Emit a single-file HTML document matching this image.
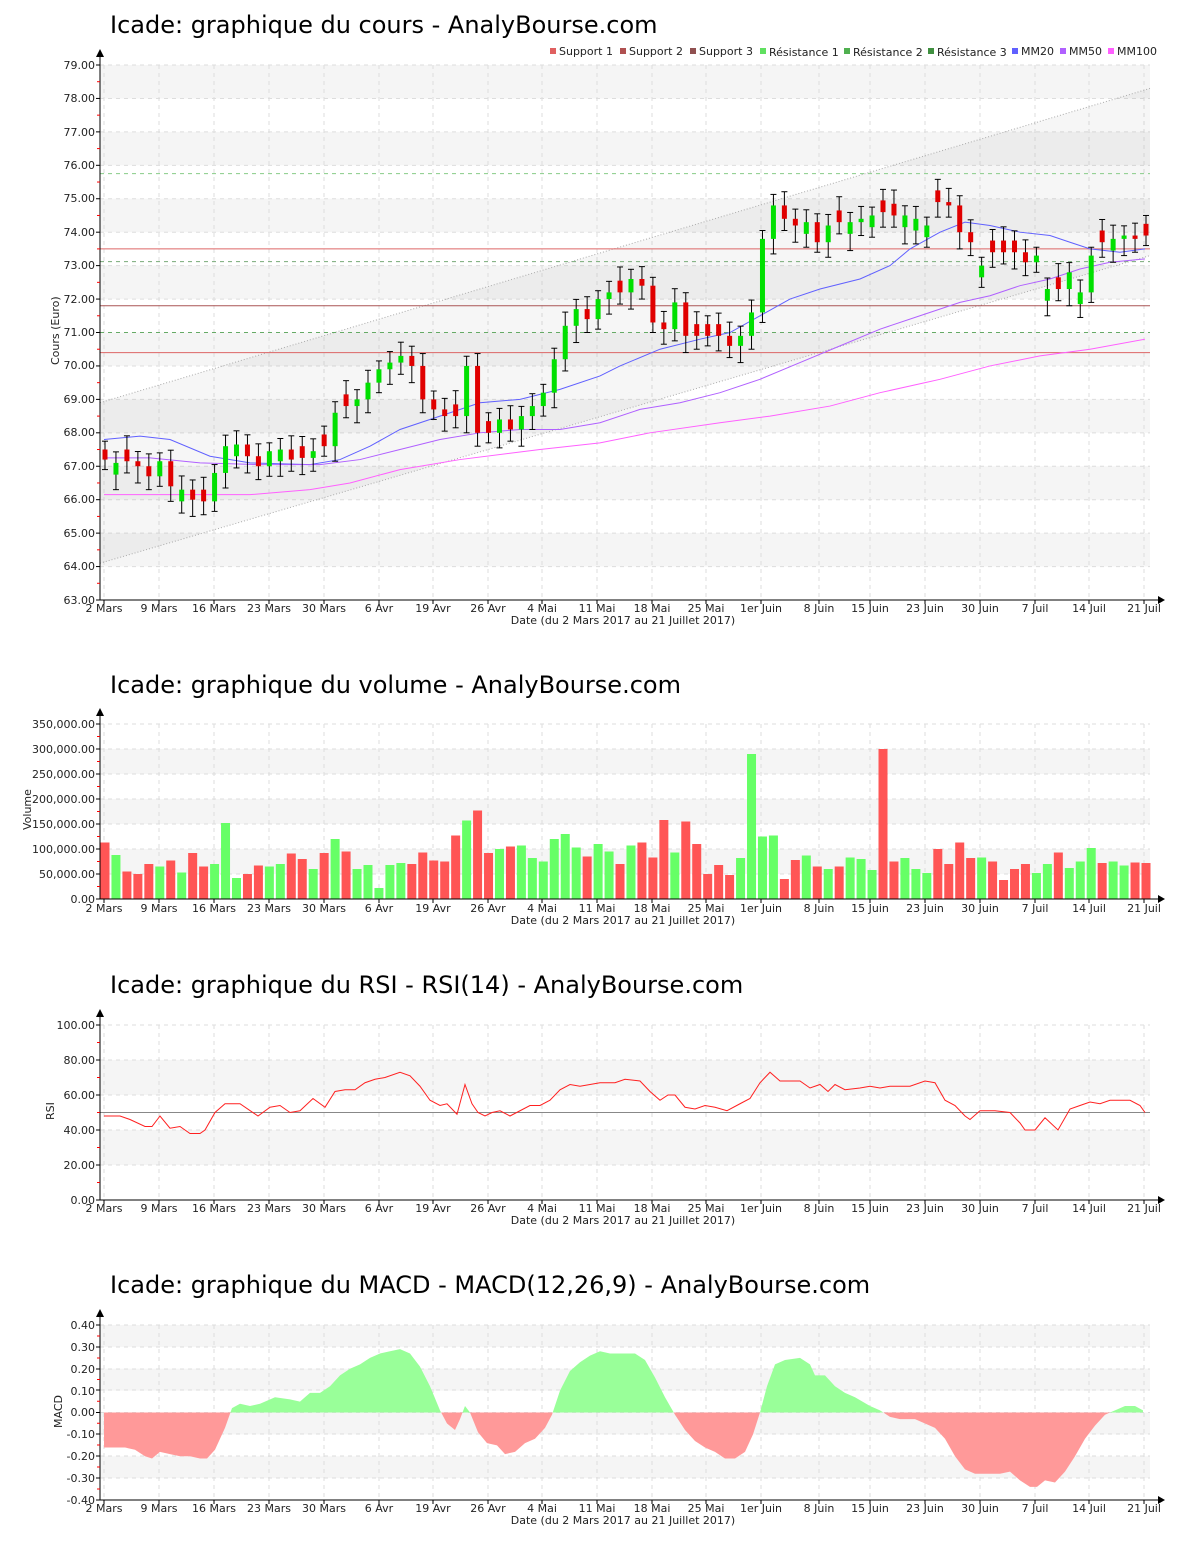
<!DOCTYPE html>
<html><head><meta charset="utf-8"><style>
body{margin:0;background:#fff;}
svg{display:block;font-family:"DejaVu Sans","Liberation Sans",sans-serif;}
.t{font-size:24px;fill:#000;}
.a{font-size:11px;fill:#222;}
.l{font-size:11px;fill:#222;}
</style></head><body>
<svg id="s" width="1200" height="1550" xmlns="http://www.w3.org/2000/svg">
<rect width="1200" height="1550" fill="#fff"/>
<g id="bg"></g>
<g id="data"></g>
<!-- titles -->
<text class="t" x="110" y="33">Icade: graphique du cours - AnalyBourse.com</text>
<text class="t" x="110" y="693">Icade: graphique du volume - AnalyBourse.com</text>
<text class="t" x="110" y="993">Icade: graphique du RSI - RSI(14) - AnalyBourse.com</text>
<text class="t" x="110" y="1293">Icade: graphique du MACD - MACD(12,26,9) - AnalyBourse.com</text>
<!-- legend -->
<g class="l">
<rect x="550" y="48" width="6" height="6" fill="#e06060"/><text x="559" y="55">Support 1</text>
<rect x="620" y="48" width="6" height="6" fill="#b05050"/><text x="629" y="55">Support 2</text>
<rect x="690" y="48" width="6" height="6" fill="#905050"/><text x="699" y="55">Support 3</text>
<rect x="760" y="48" width="6" height="6" fill="#60e060"/><text x="769" y="56">Résistance 1</text>
<rect x="844" y="48" width="6" height="6" fill="#50b050"/><text x="853" y="56">Résistance 2</text>
<rect x="928" y="48" width="6" height="6" fill="#409040"/><text x="937" y="56">Résistance 3</text>
<rect x="1012" y="48" width="6" height="6" fill="#6060ff"/><text x="1021" y="55">MM20</text>
<rect x="1060" y="48" width="6" height="6" fill="#b060ff"/><text x="1069" y="55">MM50</text>
<rect x="1108" y="48" width="6" height="6" fill="#ff60ff"/><text x="1117" y="55">MM100</text>
</g>
<!-- y labels chart1 -->
<g class="a" text-anchor="end">
<text x="95" y="69">79.00</text><text x="95" y="102">78.00</text><text x="95" y="136">77.00</text><text x="95" y="169">76.00</text><text x="95" y="202">75.00</text><text x="95" y="236">74.00</text><text x="95" y="269">73.00</text><text x="95" y="303">72.00</text><text x="95" y="336">71.00</text><text x="95" y="369">70.00</text><text x="95" y="403">69.00</text><text x="95" y="436">68.00</text><text x="95" y="470">67.00</text><text x="95" y="503">66.00</text><text x="95" y="537">65.00</text><text x="95" y="570">64.00</text><text x="95" y="604">63.00</text>
<text x="95" y="728">350,000.00</text><text x="95" y="753">300,000.00</text><text x="95" y="778">250,000.00</text><text x="95" y="803">200,000.00</text><text x="95" y="828">150,000.00</text><text x="95" y="853">100,000.00</text><text x="95" y="878">50,000.00</text><text x="95" y="903">0.00</text>
<text x="95" y="1029">100.00</text><text x="95" y="1064">80.00</text><text x="95" y="1099">60.00</text><text x="95" y="1134">40.00</text><text x="95" y="1169">20.00</text><text x="95" y="1204">0.00</text>
<text x="95" y="1329">0.40</text><text x="95" y="1351">0.30</text><text x="95" y="1373">0.20</text><text x="95" y="1395">0.10</text><text x="95" y="1416">0.00</text><text x="95" y="1438">-0.10</text><text x="95" y="1460">-0.20</text><text x="95" y="1482">-0.30</text><text x="95" y="1504">-0.40</text>
</g>
<g class="a">
<text transform="translate(59,365) rotate(-90)">Cours (Euro)</text>
<text transform="translate(31,830) rotate(-90)">Volume</text>
<text transform="translate(54,1120) rotate(-90)">RSI</text>
<text transform="translate(62,1428) rotate(-90)">MACD</text>
<text x="623" y="624" text-anchor="middle">Date (du 2 Mars 2017 au 21 Juillet 2017)</text>
<text x="623" y="924" text-anchor="middle">Date (du 2 Mars 2017 au 21 Juillet 2017)</text>
<text x="623" y="1224" text-anchor="middle">Date (du 2 Mars 2017 au 21 Juillet 2017)</text>
<text x="623" y="1524" text-anchor="middle">Date (du 2 Mars 2017 au 21 Juillet 2017)</text>
</g>
<g class="a" text-anchor="middle" id="xl">
<g id="xl0">
<text x="104">2 Mars</text><text x="159">9 Mars</text><text x="214">16 Mars</text><text x="269">23 Mars</text><text x="324">30 Mars</text><text x="379">6 Avr</text><text x="433">19 Avr</text><text x="488">26 Avr</text><text x="542">4 Mai</text><text x="597">11 Mai</text><text x="652">18 Mai</text><text x="706">25 Mai</text><text x="761">1er Juin</text><text x="819">8 Juin</text><text x="870">15 Juin</text><text x="925">23 Juin</text><text x="980">30 Juin</text><text x="1035">7 Juil</text><text x="1089">14 Juil</text><text x="1144">21 Juil</text>
</g>
</g>
<g id="axes"></g>
</svg>
<script>
var NS="http://www.w3.org/2000/svg";
var bg="",d="",ax="";
var ticks=[104,159,214,269,324,379,433,488,542,597,652,706,761,819,870,925,980,1035,1089,1144];
// replicate x labels
var xl0=document.getElementById('xl0');
[612,912,1212,1512].forEach(function(y,i){
  var g=xl0.cloneNode(true);g.removeAttribute('id');
  Array.prototype.forEach.call(g.children,function(t){t.setAttribute('y',y);});
  document.getElementById('xl').appendChild(g);
});
xl0.parentNode.removeChild(xl0);
function panel(top,bot,bands,hl){
  bg+='<rect x="100" y="'+top+'" width="1050" height="'+(bot-top)+'" fill="#fff"/>';
  bands.forEach(function(b){bg+='<rect x="100" y="'+b[0]+'" width="1050" height="'+(b[1]-b[0])+'" fill="#f5f5f5"/>';});
  ticks.forEach(function(x){bg+='<line x1="'+x+'" y1="'+top+'" x2="'+x+'" y2="'+bot+'" stroke="#ddd" stroke-dasharray="4,4"/>';});
  hl.forEach(function(y){bg+='<line x1="100" y1="'+y+'" x2="1150" y2="'+y+'" stroke="#ddd" stroke-dasharray="4,4"/>';});
  ax+='<line x1="100" y1="'+(top-10)+'" x2="100" y2="'+bot+'" stroke="#000"/><line x1="100" y1="'+bot+'" x2="1160" y2="'+bot+'" stroke="#000"/>';
  ax+='<path d="M96,'+(top-8)+' L100,'+(top-16)+' L104,'+(top-8)+'Z"/><path d="M1158,'+(bot-4)+' L1165,'+bot+' L1158,'+(bot+4)+'Z"/>';
  ticks.forEach(function(x){ax+='<line x1="'+x+'" y1="'+bot+'" x2="'+x+'" y2="'+(bot+4)+'" stroke="#000"/>';});
  hl.concat([bot]).forEach(function(y){ax+='<line x1="96" y1="'+y+'" x2="100" y2="'+y+'" stroke="#000"/>';});
  for(var i=0;i<hl.length;i++){var y=(hl[i]+(hl[i+1]||bot))/2;ax+='<line x1="97" y1="'+y+'" x2="100" y2="'+y+'" stroke="red"/>';}
}
// price
function py(v){return 65+(79-v)*33.4375;}
var b1=[],h1=[];for(var v=79;v>63;v--){h1.push(py(v));if(v%2==1)b1.push([py(v),py(v-1)]);}
panel(65,600,b1,h1);
// channel
bg+='<polygon points="100,'+py(68.9)+' 1150,'+py(78.3)+' 1150,'+py(73.3)+' 100,'+py(64.1)+'" fill="#000" fill-opacity="0.035"/>';
d+='<line x1="100" y1="'+py(68.9)+'" x2="1150" y2="'+py(78.3)+'" stroke="#aaa" stroke-dasharray="1,2"/>';
d+='<line x1="100" y1="'+py(64.1)+'" x2="1150" y2="'+py(73.3)+'" stroke="#aaa" stroke-dasharray="1,2"/>';
[[75.75,'#8c8','4,4'],[73.5,'#d66',''],[73.12,'#7a7','4,4'],[71.8,'#a55',''],[71.0,'#6a6','4,4'],[70.4,'#d66','']].forEach(function(h){
 d+='<line x1="100" y1="'+py(h[0])+'" x2="1150" y2="'+py(h[0])+'" stroke="'+h[1]+'"'+(h[2]?' stroke-dasharray="'+h[2]+'"':'')+'/>';});
function poly(pts,fy,col){var s=pts.map(function(p){return p[0]+','+fy(p[1]);}).join(' ');return '<polyline points="'+s+'" fill="none" stroke="'+col+'" stroke-width="1"/>';}
d+=poly([[104,67.8],[140,67.9],[170,67.8],[210,67.3],[250,67.1],[310,67.05],[340,67.2],[370,67.6],[400,68.1],[440,68.5],[480,68.9],[520,69.0],[560,69.3],[600,69.7],[620,70.0],[660,70.5],[700,70.8],[730,71.0],[760,71.5],[790,72.0],[820,72.3],[860,72.6],[890,73.0],[910,73.5],[940,74.0],[965,74.3],[990,74.2],[1020,74.0],[1050,73.9],[1070,73.7],[1090,73.5],[1120,73.4],[1145,73.5]],py,'#6060ff');
d+=poly([[104,67.25],[150,67.25],[200,67.1],[260,67.05],[320,67.05],[360,67.2],[400,67.5],[440,67.8],[480,68.0],[520,68.1],[560,68.1],[600,68.3],[640,68.7],[680,68.9],[720,69.2],[760,69.6],[800,70.1],[840,70.6],[880,71.1],[920,71.5],[960,71.9],[990,72.1],[1020,72.4],[1050,72.6],[1080,72.9],[1110,73.1],[1145,73.2]],py,'#b060ff');
d+=poly([[104,66.15],[250,66.15],[310,66.3],[350,66.5],[400,66.9],[460,67.2],[540,67.5],[600,67.7],[650,68.0],[720,68.3],[770,68.5],[830,68.8],[880,69.2],[940,69.6],[990,70.0],[1040,70.3],[1090,70.5],[1145,70.8]],py,'#ff60ff');
var C=[67.2,67.1,67.15,67.0,66.7,67.15,66.4,66.3,66.0,65.95,66.8,67.6,67.65,67.3,67.0,67.45,67.5,67.2,67.25,67.45,67.6,68.6,68.8,69.0,69.5,69.9,70.1,70.3,70.0,69.0,68.7,68.5,68.5,70.0,68.0,68.0,68.4,68.1,68.5,68.8,69.2,70.2,71.2,71.7,71.4,72.0,72.2,72.2,72.6,72.4,71.3,71.1,71.9,70.9,70.9,70.9,70.9,70.6,70.9,71.6,73.8,74.8,74.4,74.2,74.3,73.7,74.2,74.3,74.3,74.4,74.5,74.6,74.5,74.5,74.4,74.2,74.9,74.8,74.0,73.7,73.0,73.4,73.4,73.4,73.1,73.3,72.3,72.3,72.8,72.2,73.3,73.7,73.8,73.9,73.8,73.9,73.6];
var V=[[113,0],[88,1],[55,0],[50,0],[70,0],[65,1],[77,0],[53,1],[92,0],[65,0],[70,1],[152,1],[42,1],[50,0],[67,0],[65,1],[70,1],[91,0],[80,0],[60,1],[92,0],[120,1],[95,0],[60,1],[68,1],[22,1],[68,1],[72,1],[70,0],[93,0],[77,0],[75,0],[127,0],[157,1],[177,0],[92,0],[100,1],[105,0],[107,1],[82,1],[75,1],[120,1],[130,1],[103,1],[85,0],[110,1],[95,1],[70,0],[107,1],[113,0],[83,0],[158,0],[93,1],[155,0],[110,0],[50,0],[68,0],[48,0],[82,1],[290,1],[125,1],[127,1],[40,0],[78,0],[87,1],[65,0],[60,1],[65,0],[83,1],[80,1],[58,1],[300,0],[75,0],[82,1],[60,1],[52,1],[100,0],[70,0],[113,0],[82,0],[83,1],[75,0],[38,0],[60,0],[70,0],[52,1],[70,1],[93,0],[62,1],[75,1],[102,1],[72,0],[75,1],[67,1],[73,0],[72,0]];
var n=V.length,step=(1146-105)/(n-1);
// volume panel
function vy(k){return 899-k*0.5;}
panel(724,899,[[vy(300),vy(250)],[vy(200),vy(150)],[vy(100),vy(50)]],[724,749,774,799,824,849,874]);
for(var i=0;i<n;i++){
 var x=105+i*step,c=C[Math.min(i,C.length-1)],up=V[i][1];
 var prev=i?C[i-1]:c+0.3,o=prev;
 if(up&&c<=o+0.1)o=c-0.35; if(!up&&c>=o-0.1)o=c+0.35;
 var hi=Math.max(o,c)+0.25+((i*7)%5)*0.04,lo=Math.min(o,c)-0.3-((i*3)%5)*0.05;
 d+='<line x1="'+x+'" y1="'+py(hi)+'" x2="'+x+'" y2="'+py(lo)+'" stroke="#000"/>';
 d+='<line x1="'+(x-3)+'" y1="'+py(hi)+'" x2="'+(x+3)+'" y2="'+py(hi)+'" stroke="#000"/><line x1="'+(x-3)+'" y1="'+py(lo)+'" x2="'+(x+3)+'" y2="'+py(lo)+'" stroke="#000"/>';
 var t=py(Math.max(o,c)),bb=py(Math.min(o,c));
 d+='<rect x="'+(x-2.5)+'" y="'+t+'" width="5" height="'+Math.max(2,bb-t)+'" fill="'+(up?'#00e000':'#e00000')+'"/>';
 d+='<rect x="'+(x-4.5)+'" y="'+vy(V[i][0])+'" width="9" height="'+(V[i][0]*0.5)+'" fill="'+(up?'#66ff66':'#ff5555')+'"/>';
}
// RSI
function ry(v){return 1200-v*1.75;}
panel(1025,1200,[[ry(80),ry(60)],[ry(40),ry(20)]],[1025,1060,1095,1130,1165]);
d+='<line x1="100" y1="'+ry(50)+'" x2="1150" y2="'+ry(50)+'" stroke="#888"/>';
d+=poly([[104,48],[120,48],[130,46],[145,42],[152,42],[160,48],[170,41],[180,42],[190,38],[200,38],[205,40],[215,50],[225,55],[240,55],[258,48],[270,53],[280,54],[290,50],[300,51],[313,58],[325,53],[335,62],[345,63],[355,63],[365,67],[375,69],[385,70],[400,73],[410,71],[420,65],[430,57],[440,54],[447,55],[457,49],[465,66],[472,55],[478,50],[485,48],[492,50],[500,51],[510,48],[520,51],[530,54],[540,54],[550,57],[560,63],[570,66],[580,65],[590,66],[600,67],[615,67],[625,69],[640,68],[650,62],[660,57],[668,60],[675,60],[685,53],[695,52],[705,54],[715,53],[727,51],[740,55],[750,58],[760,67],[770,73],[780,68],[800,68],[810,64],[820,66],[828,62],[835,66],[845,63],[860,64],[870,65],[880,64],[890,65],[910,65],[925,68],[935,67],[945,57],[955,54],[965,48],[970,46],[980,51],[995,51],[1010,50],[1020,44],[1025,40],[1035,40],[1045,47],[1058,40],[1070,52],[1080,54],[1090,56],[1100,55],[1110,57],[1130,57],[1140,54],[1145,50]],ry,'#ff2020');
// MACD
function my(v){return 1412.5-v*218.75;}
panel(1325,1500,[[my(0.4),my(0.3)],[my(0.2),my(0.1)],[my(0),my(-0.1)],[my(-0.2),my(-0.3)]],[1325,1347,1369,1390,1412.5,1434,1456,1478]);
var M=[[104,-0.16],[125,-0.16],[135,-0.17],[145,-0.2],[152,-0.21],[160,-0.18],[170,-0.19],[180,-0.2],[190,-0.2],[200,-0.21],[207,-0.21],[215,-0.17],[225,-0.07],[232,0.02],[240,0.04],[250,0.03],[260,0.04],[275,0.07],[290,0.06],[300,0.05],[310,0.09],[320,0.09],[330,0.12],[340,0.17],[350,0.2],[360,0.22],[370,0.25],[380,0.27],[390,0.28],[400,0.29],[410,0.27],[420,0.21],[430,0.12],[440,0.01],[447,-0.05],[455,-0.08],[460,-0.03],[465,0.03],[470,0],[478,-0.09],[487,-0.14],[497,-0.15],[505,-0.19],[515,-0.18],[525,-0.14],[535,-0.12],[545,-0.07],[552,-0.01],[560,0.1],[570,0.19],[580,0.23],[590,0.26],[600,0.28],[610,0.27],[625,0.27],[635,0.27],[645,0.24],[655,0.16],[665,0.07],[675,-0.01],[685,-0.08],[695,-0.13],[705,-0.16],[715,-0.18],[725,-0.21],[735,-0.21],[745,-0.18],[753,-0.1],[760,0],[767,0.12],[775,0.22],[785,0.24],[800,0.25],[810,0.22],[815,0.17],[825,0.17],[835,0.12],[845,0.09],[855,0.07],[870,0.03],[880,0.01],[890,-0.02],[900,-0.03],[915,-0.03],[925,-0.05],[935,-0.07],[945,-0.12],[955,-0.2],[965,-0.26],[975,-0.28],[990,-0.28],[1000,-0.28],[1010,-0.27],[1020,-0.31],[1030,-0.34],[1037,-0.34],[1045,-0.31],[1055,-0.32],[1065,-0.27],[1075,-0.2],[1085,-0.12],[1095,-0.06],[1105,-0.01],[1115,0.01],[1125,0.03],[1135,0.03],[1143,0.01]];
var mp='104,1412.5 '+M.map(function(p){return p[0]+','+my(p[1]);}).join(' ')+' 1143,1412.5';
d+='<defs><clipPath id="up"><rect x="100" y="1300" width="1060" height="112.5"/></clipPath><clipPath id="dn"><rect x="100" y="1412.5" width="1060" height="100"/></clipPath></defs>';
d+='<polygon points="'+mp+'" fill="#99ff99" clip-path="url(#up)"/><polygon points="'+mp+'" fill="#ff9999" clip-path="url(#dn)"/>';
document.getElementById('bg').innerHTML=bg;
document.getElementById('data').innerHTML=d;
document.getElementById('axes').innerHTML=ax;
</script>
</body></html>
